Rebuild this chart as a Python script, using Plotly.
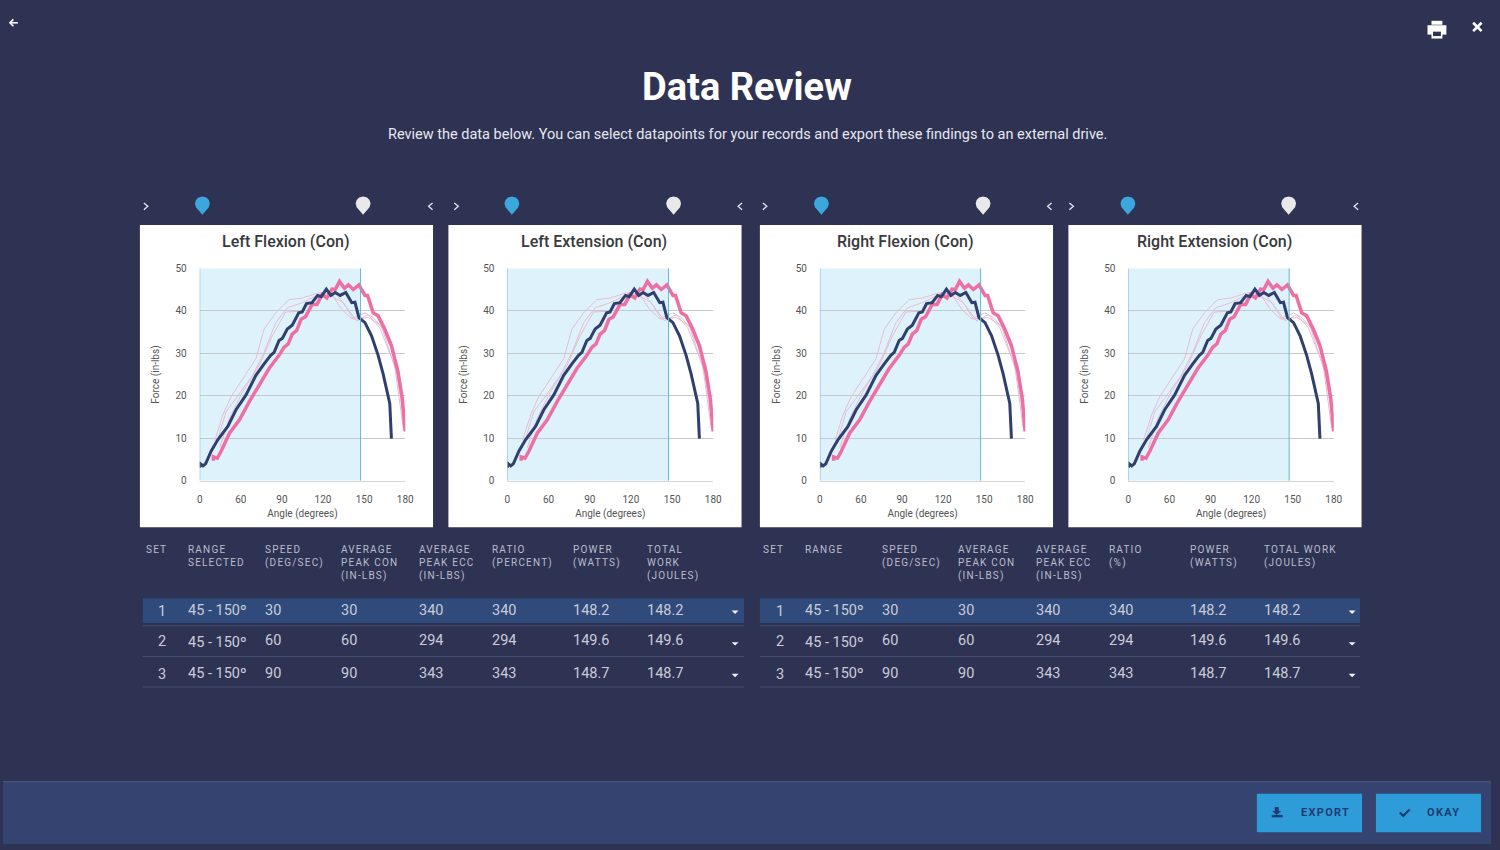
import plotly.graph_objects as go

W = 1500
H = 850

panel_titles = ['Left Flexion (Con)', 'Left Extension (Con)', 'Right Flexion (Con)', 'Right Extension (Con)']
angle_ticks = [30, 60, 90, 120, 150, 180]
angle_labels = ['0', '60', '90', '120', '150', '180']
force_ticks = [0, 10, 20, 30, 40, 50]
selected_end = 147.4

navy_x = [30, 30.5, 32.4, 34.3, 38.4, 43.3, 50.5, 56.5, 63.8, 71, 77, 81.8, 84.3, 87.9, 90.3, 93.9, 97.5, 102.3, 104.8,
          107.9, 112, 116, 118.7, 122.4, 125.7, 128.9, 132.5, 136.6, 141, 143.3, 146.2, 150.6, 155.4, 160.2, 163.8,
          168.7, 169.9]
navy_y = [3.1, 4, 3.5, 4, 7, 9.7, 12.8, 16.7, 20.2, 24.8, 27.5, 29.5, 30.2, 33, 33.5, 35.7, 36.6, 39.5, 39.7,
          41.7, 41.9, 43.6, 43.3, 45.1, 43.6, 44.3, 43.6, 44.3, 41.9, 42, 38.4, 37.2, 34.1, 29.5, 25.2,
          18.2, 9.9]
pink_x = [40, 40, 42.8, 45.7, 51.7, 58.9, 66.2, 73.4, 80.6, 87.9, 91.5, 94.6, 97.5, 100.7, 104, 107.2, 112, 115.6,
          119.2, 122.8, 126.5, 128.9, 132, 135.6, 138.5, 142.1, 146.2, 150.6, 152.5, 156.6, 160.2, 165, 169.9, 174.7,
          177.8, 179.9]
pink_y = [4.7, 5.6, 5.3, 7, 11.2, 14.3, 18.6, 22.5, 26.4, 29.5, 31.4, 32.2, 34.5, 35.3, 38, 38.6, 41.5, 41.5,
          43.8, 43, 45.1, 45, 46.9, 45.3, 46.1, 45, 46.1, 43.6, 43.6, 39.5, 38.8, 35.7, 31.8, 25.6,
          19.4, 11.6]
faint_a_x = [41, 46.9, 52.9, 61.3, 71, 77, 85.5, 95.1, 104.8, 116.8, 126.5, 133.7, 141, 150.6, 156.6, 163.8, 174.7, 179.9]
faint_a_y = [9.5, 15.5, 19.8, 24, 28.7, 35.7, 39.5, 42.6, 43, 44.2, 43.8, 40.3, 38.1, 39.5, 38.4, 35.7, 27.1, 12]
faint_b_x = [42, 49.3, 56.5, 68.6, 77, 85.5, 93.9, 104.8, 116.8, 128.9, 139.3, 144.5, 153, 161.4, 172.3, 178.5]
faint_b_y = [8.5, 16.3, 19.4, 24.8, 30.2, 37.2, 40.7, 41.9, 43.8, 44.2, 39.9, 37.6, 39.1, 36, 27.1, 12.4]
faint_c_x = [44.5, 51.7, 61.3, 73.4, 83, 92.7, 104.8, 114.4, 126.5, 134.9, 142.1, 153, 162.6, 173.5, 179]
faint_c_y = [7.8, 14.7, 20.9, 27.1, 34.1, 39.7, 39.9, 43, 43.4, 41.9, 38, 38.4, 36.4, 25.6, 14.7]

left_headers = ['SET', 'RANGE<br>SELECTED', 'SPEED<br>(DEG/SEC)', 'AVERAGE<br>PEAK CON<br>(IN-LBS)',
                'AVERAGE<br>PEAK ECC<br>(IN-LBS)', 'RATIO<br>(PERCENT)', 'POWER<br>(WATTS)', 'TOTAL<br>WORK<br>(JOULES)']
right_headers = ['SET', 'RANGE', 'SPEED<br>(DEG/SEC)', 'AVERAGE<br>PEAK CON<br>(IN-LBS)',
                 'AVERAGE<br>PEAK ECC<br>(IN-LBS)', 'RATIO<br>(%)', 'POWER<br>(WATTS)', 'TOTAL WORK<br>(JOULES)']
set_numbers = ['1', '2', '3']
ranges = ['45 - 150º', '45 - 150º', '45 - 150º']
speeds = ['30', '60', '90']
peak_con = ['30', '60', '90']
peak_ecc = ['340', '294', '343']
ratios = ['340', '294', '343']
powers = ['148.2', '149.6', '148.7']
total_work = ['148.2', '149.6', '148.7']

BG = '#2f3353'
TEXT = '#c9ccd8'
HEAD = '#b9bdcc'

# card left edge, plot left edge, plot right edge, blue pin, white pin, > and <
panels = [(138, 198.3, 405.5, 201, 363, 144, 431),
          (449, 508.5, 716, 513, 676, 457, 743),
          (763, 823.5, 1030.5, 825, 988, 768, 1055),
          (1074, 1134.5, 1341.5, 1134, 1296, 1077, 1364)]
PLOT_TOP = 266.7
PLOT_BOTTOM = 482


def px(x):
    return x / W


def py(y):
    return 1 - y / H


def rect(x0, y0, x1, y1, color, layer='below'):
    return dict(type='rect', xref='paper', yref='paper', x0=px(x0), x1=px(x1), y0=py(y1), y1=py(y0),
                fillcolor=color, line_width=0, layer=layer)


def hline(x0, x1, y, color, width=1):
    return dict(type='line', xref='paper', yref='paper', x0=px(x0), x1=px(x1), y0=py(y), y1=py(y),
                line=dict(color=color, width=width), layer='below')


def icon(points, color=None, line=None, width=2):
    # closed filled shape, or an open stroke, from page pixels
    d = 'M' + ' L'.join(f'{px(x):.5f},{py(y):.5f}' for x, y in points)
    if color:
        return dict(type='path', xref='paper', yref='paper', path=d + ' Z', fillcolor=color, line_width=0, layer='above')
    return dict(type='path', xref='paper', yref='paper', path=d, line=dict(color=line, width=width), layer='above')


def pin(x, color):
    pts = [(x - 7.5, 201), (x - 6.5, 197.5), (x - 4, 195), (x, 194), (x + 4, 195), (x + 6.5, 197.5), (x + 7.5, 201),
           (x + 6.5, 205), (x + 3, 209), (x, 212.5), (x - 3, 209), (x - 6.5, 205)]
    return icon(pts, color=color)


def label(x, y, text, size, color=TEXT, family='Roboto', xanchor='left', yanchor='top', align='left'):
    return dict(xref='paper', yref='paper', x=px(x), y=py(y), text=text, showarrow=False, xanchor=xanchor,
                yanchor=yanchor, align=align, borderpad=0, font=dict(family=family, size=size, color=color))


fig = go.Figure()
shapes = []
annotations = []

shapes.append(rect(0, 787, W, H, '#344370'))
shapes.append(hline(0, W, 787, '#4f5c8c'))

for i, (title, panel) in enumerate(zip(panel_titles, panels)):
    card, left, right, blue, white, open_x, close_x = panel
    n = '' if i == 0 else str(i + 1)
    fig.add_trace(go.Scatter(x=faint_a_x, y=faint_a_y, mode='lines', line=dict(color='#e6bdd4', width=1), xaxis='x' + n, yaxis='y' + n))
    fig.add_trace(go.Scatter(x=faint_b_x, y=faint_b_y, mode='lines', line=dict(color='#e6bdd4', width=1), xaxis='x' + n, yaxis='y' + n))
    fig.add_trace(go.Scatter(x=faint_c_x, y=faint_c_y, mode='lines', line=dict(color='#e6bdd4', width=1), xaxis='x' + n, yaxis='y' + n))
    fig.add_trace(go.Scatter(x=pink_x, y=pink_y, mode='lines', line=dict(color='#ee6fa3', width=3.5), xaxis='x' + n, yaxis='y' + n, cliponaxis=False))
    fig.add_trace(go.Scatter(x=navy_x, y=navy_y, mode='lines', line=dict(color='#2f3f6e', width=3), xaxis='x' + n, yaxis='y' + n, cliponaxis=False))

    fig.update_layout({
        'xaxis' + n: dict(domain=[px(left), px(right)], range=[30, 180], anchor='y' + n, tickmode='array',
                          tickvals=angle_ticks, ticktext=angle_labels, showgrid=False, zeroline=False,
                          showline=True, linecolor='#d5d5d5', ticks='outside', ticklen=9, tickcolor='rgba(0,0,0,0)',
                          tickfont=dict(family='Roboto', size=10, color='#555555'),
                          title=dict(text='Angle (degrees)', standoff=6, font=dict(family='Roboto', size=10, color='#555555'))),
        'yaxis' + n: dict(domain=[py(PLOT_BOTTOM), py(PLOT_TOP)], range=[0, 50], anchor='x' + n, tickmode='array',
                          tickvals=force_ticks, showgrid=True, gridcolor='#c4c9cc', gridwidth=1, zeroline=False,
                          showline=False, ticks='outside', ticklen=10, tickcolor='rgba(0,0,0,0)',
                          tickfont=dict(family='Roboto', size=10, color='#555555'),
                          title=dict(text='Force (in-lbs)', standoff=13, font=dict(family='Roboto', size=10, color='#555555'))),
    })

    shapes.append(rect(card, 223, card + 295.5, 529, '#ffffff'))
    shapes.append(dict(type='rect', xref='x' + n, yref='y' + n, x0=30, x1=selected_end, y0=0, y1=50,
                       fillcolor='#def2fb', line_width=0, layer='below'))
    for edge in (30, selected_end):
        shapes.append(dict(type='line', xref='x' + n, yref='y' + n, x0=edge, x1=edge, y0=0, y1=50,
                           line=dict(color='#62b6d3', width=1), layer='above'))
    shapes.append(pin(blue, '#3ba7dd'))
    shapes.append(pin(white, '#e9e9e9'))
    shapes.append(icon([(open_x - 2, 200.5), (open_x + 2, 204), (open_x - 2, 207.5)], line='#e4e6ee', width=1.3))
    shapes.append(icon([(close_x + 2, 200.5), (close_x - 2, 204), (close_x + 2, 207.5)], line='#e4e6ee', width=1.3))
    annotations.append(label(card + 147, 240, title, 16, color='#3a3a3e', xanchor='center', yanchor='middle',
                             family='Roboto Medium, Roboto'))

annotations.append(label(W / 2, 83, '<b>Data Review</b>', 38, color='#ffffff', xanchor='center', yanchor='middle'))
annotations.append(label(W / 2, 131, 'Review the data below. You can select datapoints for your records and export these findings to an external drive.',
                         14.5, color='#e6e8ef', xanchor='center', yanchor='middle'))

# tables
tables = [(left_headers, [143, 185, 263, 340, 418, 492, 574, 648], 141, 747, 160, 738),
          (right_headers, [765, 807, 885, 962, 1040, 1114, 1196, 1270], 763, 1368, 783, 1360)]
row_y = [613, 644, 677]
range_y = [613, 646, 677]
for headers, cols, x0, x1, set_x, arrow_x in tables:
    shapes.append(rect(x0, 601, x1, 626, '#2f4a7b'))
    for y in (629, 660, 691):
        shapes.append(hline(x0, x1, y, '#474e72'))
    for col, head in zip(cols, headers):
        annotations.append(label(col, 545.5, head, 10, color=HEAD))
    for r in range(3):
        y = row_y[r]
        annotations.append(label(set_x, y + 1 if r else y + 1, set_numbers[r], 14.5, xanchor='center', yanchor='middle'))
        annotations.append(label(cols[1], range_y[r], ranges[r], 14.5, yanchor='middle'))
        values = [speeds[r], peak_con[r], peak_ecc[r], ratios[r], powers[r], total_work[r]]
        for col, value in zip(cols[2:], values):
            annotations.append(label(col, y, value, 14.5, yanchor='middle'))
        ay = [615, 647, 679][r]
        shapes.append(icon([(arrow_x - 3.5, ay - 1.5), (arrow_x + 3.5, ay - 1.5), (arrow_x, ay + 2)], color='#f2f3f7'))

# footer buttons
shapes.append(rect(1264, 799, 1370, 838, '#2e9cd9', layer='above'))
shapes.append(rect(1384, 799, 1490, 838, '#2e9cd9', layer='above'))
annotations.append(label(1307, 818.5, '<b>EXPORT</b>', 11, color='#1f3c73', yanchor='middle'))
annotations.append(label(1434, 818.5, '<b>OKAY</b>', 11, color='#1f3c73', yanchor='middle'))
shapes.append(icon([(1282, 812.5), (1286, 812.5), (1286, 816.5), (1288.5, 816.5), (1284, 820.5), (1279.5, 816.5), (1282, 816.5)], color='#1f3c73'))
shapes.append(rect(1279, 820.5, 1290, 823, '#1f3c73', layer='above'))
shapes.append(icon([(1408, 818), (1411.5, 821.5), (1418, 815)], line='#1f3c73', width=2.2))

# top icons
shapes.append(icon([(15, 18), (7, 18)], line='#ffffff', width=1.6))
shapes.append(icon([(10.5, 14.5), (7, 18), (10.5, 21.5)], line='#ffffff', width=1.6))
shapes.append(icon([(1482, 18), (1490.5, 26.5)], line='#ffffff', width=2.6))
shapes.append(icon([(1490.5, 18), (1482, 26.5)], line='#ffffff', width=2.6))
shapes.append(rect(1440, 16, 1451, 20, '#ffffff', layer='above'))
shapes.append(rect(1436, 20.5, 1455, 30, '#ffffff', layer='above'))
shapes.append(rect(1440, 27, 1451, 34, '#ffffff', layer='above'))
shapes.append(rect(1441.5, 27, 1449.5, 31.5, BG, layer='above'))

fig.update_layout(width=W, height=H, margin=dict(l=0, r=0, t=0, b=0), paper_bgcolor=BG, plot_bgcolor='rgba(0,0,0,0)',
                  showlegend=False, shapes=shapes, annotations=annotations, font=dict(family='Roboto'))

# page margin off, and the letter spacing the small caps headers have
post = """
document.body.style.margin = '0';
document.documentElement.style.overflow = 'hidden';
document.querySelectorAll('.annotation-text').forEach(function (t) {
  var s = parseFloat(t.style.fontSize);
  if (s === 10) { t.style.letterSpacing = '1.2px'; }
  if (s === 11) { t.style.letterSpacing = '1.3px'; }
});
"""
fig.write_html('out.html', post_script=post, config=dict(displayModeBar=False))
